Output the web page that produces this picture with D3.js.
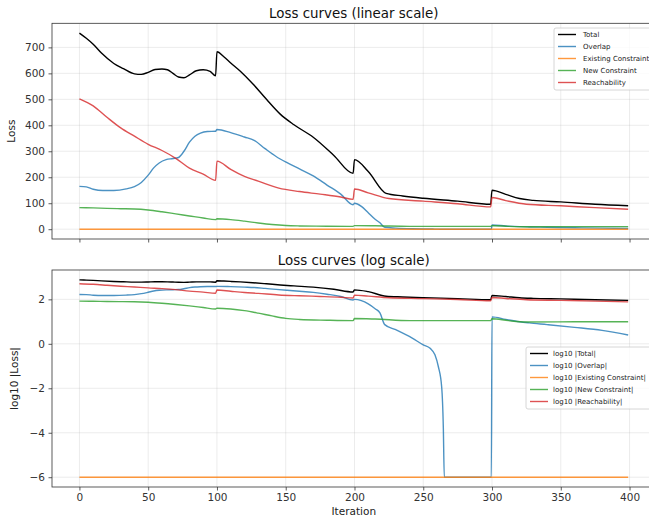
<!DOCTYPE html>
<html>
<head>
<meta charset="utf-8">
<script src="https://cdn.jsdelivr.net/npm/d3@7"></script>
<style>
  body { margin: 0; background: #fff; }
  svg { display: block; font-family: "DejaVu Sans", sans-serif; }
</style>
</head>
<body>
<svg id="chart"></svg>
<script>
// Ticks
const iterTicks = [0, 50, 100, 150, 200, 250, 300, 350, 400];
const linTicks = [0, 100, 200, 300, 400, 500, 600, 700];
const logTicks = [-6, -4, -2, 0, 2];

// Séries: [iteração, perda]
const totalLoss = [[0,755],[5,735],[10,712],[16,678],[25,638],[32,618],[40,598],[45,596],[50,604],[55,615],[60,617],[64,614],[68,600],[72,586],[76,583],[80,594],[85,610],[90,614],[95,608],[99,591],[100,683],[105,664],[110,640],[117,608],[126,560],[136,500],[146,443],[156,402],[170,354],[185,284],[199,215],[200,268],[210,222],[223,138],[235,128],[250,119],[275,108],[299,96],[300,150],[310,134],[320,118],[330,111],[350,105],[375,96],[399,90]];
const overlapLoss = [[0,165],[5,163],[10,154],[17,149],[25,149],[34,155],[40,164],[45,180],[50,208],[54,236],[58,255],[63,268],[68,272],[72,276],[76,300],[80,335],[84,358],[88,370],[93,376],[99,377],[100,384],[110,372],[120,355],[127,342],[135,310],[143,280],[151,256],[160,232],[170,205],[180,170],[190,135],[199,94],[200,100],[205,88],[210,63],[215,38],[218.5,24.5],[222,7.3],[230,4.3],[242,1.8],[250,0.9],[255,0.63],[258.5,0.32],[261,0.093],[263.4,0.0115],[264.6,0.00017],[265.3,1e-6],[299.5,1e-6],[300,16.3],[310,12.5],[320,9.8],[327,8.7],[340,7.3],[360,5.5],[380,4.0],[399,2.5]];
const existingLoss = [[0,1e-6],[399,1e-6]];
const newConstraintLoss = [[0,83],[10,82],[20,80],[30,79],[40,78],[50,74],[60,67],[70,59],[80,51],[90,43],[99,37],[100,40],[110,37],[120,31],[130,24],[140,18],[150,14],[160,12.5],[180,11.5],[199,11],[200,13.7],[215,13],[240,11],[270,11],[299,11],[300,13.5],[312,11],[325,9.6],[360,9.8],[399,9.8]];
const reachLoss = [[0,502],[10,475],[20,431],[30,390],[40,358],[50,327],[60,303],[70,273],[80,235],[90,212],[99,188],[100,262],[110,230],[120,203],[130,185],[145,158],[160,145],[175,135],[190,124],[199,115],[200,155],[210,140],[225,118],[250,108],[275,98],[299,86],[300,122],[310,110],[325,96],[350,90],[375,83],[399,77]];

const seriesNames = ['Total', 'Overlap', 'Existing Constraint', 'New Constraint', 'Reachability'];
const seriesColors = ['#000000', '#1f77b4', '#ff7f0e', '#2ca02c', '#d62728'];
const seriesData = [totalLoss, overlapLoss, existingLoss, newConstraintLoss, reachLoss];

const W = 649, H = 522;
const svg = d3.select('#chart').attr('width', W).attr('height', H);

const x = d3.scaleLinear().domain([-19.95, 418.95]).range([52, 655.6]);
const yLin = d3.scaleLinear().domain([-37.75, 792.75]).range([239, 23.3]);
const yLog = d3.scaleLinear().domain([-6.44, 3.32]).range([487, 270]);

function drawPanel(y, yTicks, opts) {
    const [top, bottom] = [y.range()[1], y.range()[0]];
    const [left, right] = x.range();
    const g = svg.append('g');

    const clipId = 'clip-' + opts.id;
    g.append('clipPath').attr('id', clipId)
        .append('rect').attr('x', left).attr('y', top)
        .attr('width', right - left).attr('height', bottom - top);

    // Grade
    g.append('g').selectAll('line').data(iterTicks).join('line')
        .attr('x1', d => x(d)).attr('x2', d => x(d))
        .attr('y1', top).attr('y2', bottom)
        .attr('stroke', '#b0b0b0').attr('stroke-opacity', 0.3).attr('stroke-width', 0.8);
    g.append('g').selectAll('line').data(yTicks).join('line')
        .attr('x1', left).attr('x2', right)
        .attr('y1', d => y(d)).attr('y2', d => y(d))
        .attr('stroke', '#b0b0b0').attr('stroke-opacity', 0.3).attr('stroke-width', 0.8);

    // Linhas
    const line = d3.line()
        .x(d => x(d[0]))
        .y(d => y(opts.tf(d[1])))
        .curve(d3.curveMonotoneX);
    const lines = g.append('g').attr('clip-path', `url(#${clipId})`);
    seriesData.forEach((data, i) => {
        lines.append('path')
            .datum(data)
            .attr('d', line)
            .attr('fill', 'none')
            .attr('stroke', seriesColors[i])
            .attr('stroke-opacity', i === 0 ? 1 : 0.8)
            .attr('stroke-width', 1.4)
            .attr('stroke-linejoin', 'round');
    });

    // Eixos
    const yAxis = g.append('g').attr('transform', `translate(${left},0)`)
        .call(d3.axisLeft(y).tickValues(yTicks).tickSize(3.5).tickPadding(3.5));
    const xAxis = g.append('g').attr('transform', `translate(0,${bottom})`)
        .call(d3.axisBottom(x).tickValues(iterTicks).tickSize(3.5).tickPadding(3.5)
            .tickFormat(opts.xLabels ? d3.format('d') : ''));
    [yAxis, xAxis].forEach(a => {
        a.select('.domain').remove();
        a.selectAll('line').attr('stroke', '#333').attr('stroke-width', 0.8);
        a.selectAll('text').attr('font-size', 10.5).attr('fill', '#333')
            .attr('font-family', '"DejaVu Sans", sans-serif');
    });

    // Moldura
    g.append('rect').attr('x', left).attr('y', top)
        .attr('width', right - left).attr('height', bottom - top)
        .attr('fill', 'none').attr('stroke', '#333').attr('stroke-width', 0.8);

    // Título
    g.append('text').attr('x', (left + right) / 2).attr('y', top - 5)
        .attr('text-anchor', 'middle').attr('font-size', 13.4).attr('fill', '#111')
        .text(opts.title);

    // Rótulo Y
    g.append('text')
        .attr('transform', `translate(${opts.ylabelX},${(top + bottom) / 2}) rotate(-90)`)
        .attr('text-anchor', 'middle').attr('font-size', 10.5).attr('fill', '#222')
        .text(opts.ylabel);

    // Legenda
    const lg = g.append('g').attr('transform', `translate(${opts.legend[0]},${opts.legend[1]})`);
    lg.append('rect').attr('x', 0).attr('y', 0)
        .attr('width', opts.legend[2]).attr('height', 62).attr('rx', 2)
        .attr('fill', '#fff').attr('fill-opacity', 0.8)
        .attr('stroke', '#ccc').attr('stroke-width', 0.8);
    seriesNames.forEach((name, i) => {
        const yy = 6.5 + i * 12;
        lg.append('line').attr('x1', 4).attr('x2', 22).attr('y1', yy).attr('y2', yy)
            .attr('stroke', seriesColors[i]).attr('stroke-opacity', i === 0 ? 1 : 0.8)
            .attr('stroke-width', 1.4);
        lg.append('text').attr('x', opts.legend[3]).attr('y', yy).attr('dy', '0.35em')
            .attr('font-size', 7).attr('fill', '#222')
            .text(opts.legendFmt(name));
    });
}

drawPanel(yLin, linTicks, {
    id: 'lin', tf: v => v, xLabels: false,
    title: 'Loss curves (linear scale)', ylabel: 'Loss', ylabelX: 15,
    legend: [554, 28, 110, 29], legendFmt: n => n
});

drawPanel(yLog, logTicks, {
    id: 'log', tf: v => Math.log10(Math.max(Math.abs(v), 1e-6)), xLabels: true,
    title: 'Loss curves (log scale)', ylabel: 'log10 |Loss|', ylabelX: 18,
    legend: [526, 347, 130, 27], legendFmt: n => `log10 |${n}|`
});

// Rótulo X
svg.append('text').attr('x', (x.range()[0] + x.range()[1]) / 2).attr('y', 515)
    .attr('text-anchor', 'middle').attr('font-size', 10.5).attr('fill', '#222')
    .text('Iteration');
</script>
</body>
</html>
